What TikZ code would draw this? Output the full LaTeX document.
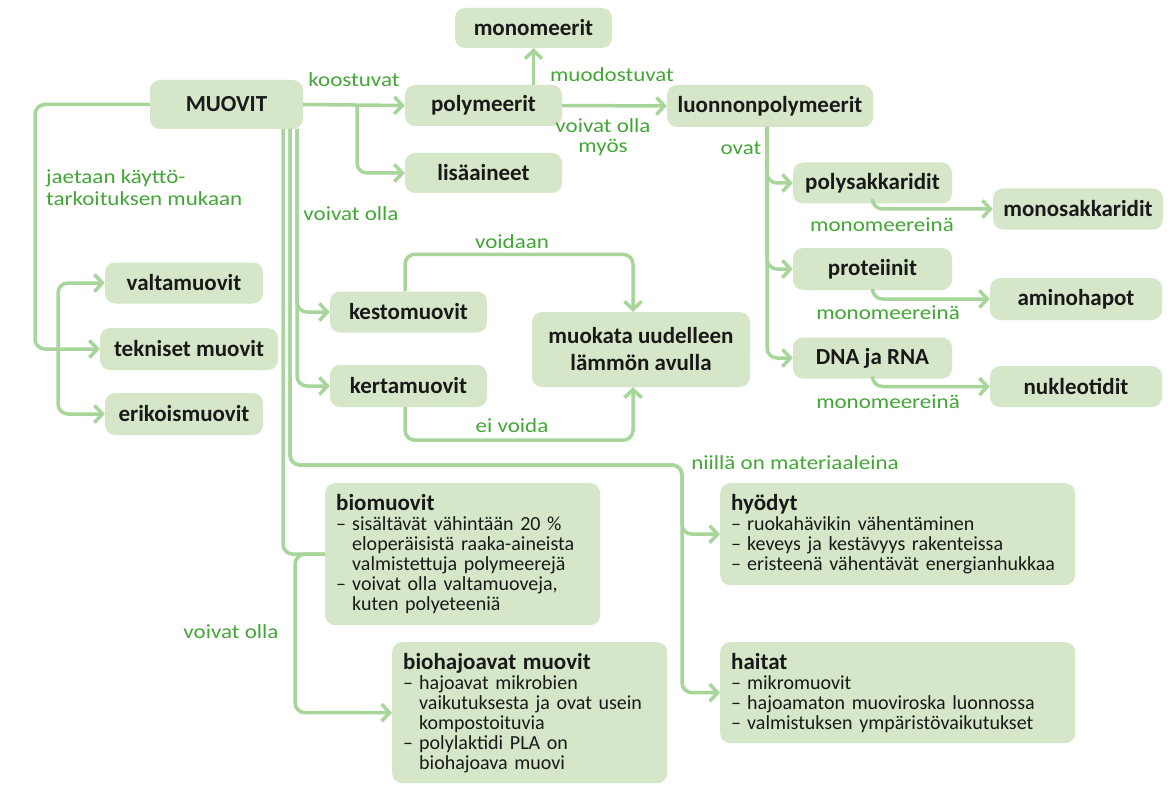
\documentclass[tikz,border=0pt]{standalone}
\usepackage{fontspec}
\setmainfont{Carlito}
\newfontfamily\handfont{Carlito}[FakeStretch=1.15]
\usetikzlibrary{arrows.meta}
\definecolor{boxfill}{HTML}{D6E7C9}
\definecolor{linecol}{HTML}{A8D59A}
\definecolor{labgreen}{HTML}{43A637}
\newcommand\itm{\makebox[16pt][l]{–}}
\newcommand\ind{\hspace*{16pt}}
\tikzset{
 box/.style={fill=boxfill, rounded corners=10pt, inner sep=0pt, font=\fontsize{23}{25}\selectfont\bfseries, text=black!90},
 tbox/.style={fill=boxfill, rounded corners=10pt, anchor=north west, inner xsep=11pt, inner ysep=0pt, align=left, font=\fontsize{20}{20}\selectfont, text=black!90},
 conn/.style={draw=linecol, line width=3.5pt, rounded corners=10pt},
 arr/.style={-{Straight Barb[length=8pt,width=17pt]}},
 lab/.style={text=labgreen, font=\handfont\fontsize{20}{20}\selectfont, inner sep=0pt, align=center}
}
\newcommand\ttlf{\fontsize{23}{22}\selectfont\bfseries}
\begin{document}
\begin{tikzpicture}[x=1pt,y=-1pt]
\fill[white] (0,0) rectangle (1171,797);
\useasboundingbox (0,0) rectangle (1171,797);

\coordinate (m1) at (283,129);
\coordinate (m2) at (290,129);
\coordinate (m3) at (297,129);
\coordinate (kb) at (357,105);
\coordinate (lt) at (767,127);
\coordinate (lc) at (35,349);
\coordinate (br) at (58,349);
\coordinate (nc) at (682,465);
\coordinate (bb) at (295,640);

% nodes
\node[box, minimum width=157, minimum height=40] (monomeerit) at (533.5,28) {monomeerit};
\node[box, minimum width=153, minimum height=49] (muovit) at (226.5,104.5) {MUOVIT};
\node[box, minimum width=157, minimum height=41] (polymeerit) at (483.5,105.5) {polymeerit};
\node[box, minimum width=157, minimum height=40] (lisaaineet) at (483.5,173) {lisäaineet};
\node[box, minimum width=206, minimum height=42] (luonnon) at (770,106) {luonnonpolymeerit};
\node[box, minimum width=159, minimum height=41] (polysak) at (872.5,183) {polysakkaridit};
\node[box, minimum width=170, minimum height=41] (monosak) at (1078,209) {monosakkaridit};
\node[box, minimum width=159, minimum height=42] (prot) at (872.5,269) {proteiinit};
\node[box, minimum width=172, minimum height=42] (amino) at (1076,299) {aminohapot};
\node[box, minimum width=159, minimum height=41] (dna) at (872.5,358) {DNA ja RNA};
\node[box, minimum width=172, minimum height=41] (nukleo) at (1076,386.5) {nukleotidit};
\node[box, minimum width=158, minimum height=41] (valta) at (184,283) {valtamuovit};
\node[box, minimum width=178, minimum height=42] (tekniset) at (189,349) {tekniset muovit};
\node[box, minimum width=158, minimum height=42] (erikois) at (184,414) {erikoismuovit};
\node[box, minimum width=157, minimum height=41] (kesto) at (408.5,312) {kestomuovit};
\node[box, minimum width=157, minimum height=42] (kerta) at (408.5,386) {kertamuovit};
\node[box, minimum width=218, minimum height=75, align=center, font=\fontsize{23}{27}\selectfont\bfseries] (muokata) at (641,349.5) {muokata uudelleen\\lämmön avulla};

\node[tbox, text width=253, minimum height=142] (bio) at (325,483) {{\ttlf biomuovit}\\
\itm sisältävät vähintään 20 \%\\
\ind eloperäisistä raaka-aineista\\
\ind valmistettuja polymeerejä\\
\itm voivat olla valtamuoveja,\\
\ind kuten polyeteeniä};
\node[tbox, text width=253, minimum height=141] (biohaj) at (392,642) {{\ttlf biohajoavat muovit}\\
\itm hajoavat mikrobien\\
\ind vaikutuksesta ja ovat usein\\
\ind kompostoituvia\\
\itm polylaktidi PLA on\\
\ind biohajoava muovi};
\node[tbox, text width=333, minimum height=102] (hyodyt) at (720,483) {{\ttlf hyödyt}\\
\itm ruokahävikin vähentäminen\\
\itm keveys ja kestävyys rakenteissa\\
\itm \mbox{eristeenä vähentävät energianhukkaa}};
\node[tbox, text width=333, minimum height=101] (haitat) at (720,642) {{\ttlf haitat}\\
\itm mikromuovit\\
\itm hajoamaton muoviroska luonnossa\\
\itm \mbox{valmistuksen ympäristövaikutukset}};

% connectors
\draw[conn,arr] (muovit.east) -- (polymeerit.west);
\draw[conn,arr] (kb) |- (lisaaineet.west);
\draw[conn,arr] (polymeerit.north -| monomeerit.south) -- (monomeerit.south);
\draw[conn,arr] (polymeerit.east) -- (luonnon.west);
\draw[conn,arr] (lt) |- (polysak.west);
\draw[conn,arr] (lt) |- (prot.west);
\draw[conn,arr] (lt) |- (dna.west);
\draw[conn,arr] (polysak.south) |- (monosak.west);
\draw[conn,arr] (prot.south) |- (amino.west);
\draw[conn,arr] (dna.south) |- (nukleo.west);
\draw[conn,arr] (muovit.west) -| (lc) -- (tekniset.west);
\draw[conn,arr] (br) |- (valta.west);
\draw[conn,arr] (br) |- (erikois.west);
\draw[conn,arr] (m3) |- (kesto.west);
\draw[conn,arr] (m3) |- (kerta.west);
\draw[conn,arr] (m2) |- (nc) |- (hyodyt.west);
\draw[conn,arr] (m2) |- (nc) |- (haitat.west);
\draw[conn] (m1) |- (bio.west);
\draw[conn,arr] (bio.west) -| (bb) |- (biohaj.west);
\draw[conn,arr] ([xshift=-3.5]kesto.north) -- ++(0,-37) -| ([xshift=-8]muokata.north);
\draw[conn,arr] ([xshift=-3.5]kerta.south) -- ++(0,33) -| ([xshift=-8]muokata.south);

% labels
\node[lab] (l1) at (354,80) {koostuvat};
\node[lab] (l2) at (612,75) {muodostuvat};
\node[lab] (l3) at (603,137) {voivat olla\\myös};
\node[lab] (l4) at (741,148) {ovat};
\node[lab] (l5) at (882,225) {monomeereinä};
\node[lab] (l6) at (888,313) {monomeereinä};
\node[lab] (l7) at (888,402) {monomeereinä};
\node[lab, anchor=west, align=left, font=\handfont\fontsize{20}{22}\selectfont] (l8) at (46,188) {jaetaan käyttö-\\tarkoituksen mukaan};
\node[lab] (l9) at (351,214) {voivat olla};
\node[lab] (l10) at (512,242) {voidaan};
\node[lab] (l11) at (512,426) {ei voida};
\node[lab] (l12) at (795,463) {niillä on materiaaleina};
\node[lab] (l13) at (231,632) {voivat olla};
\end{tikzpicture}
\end{document}
